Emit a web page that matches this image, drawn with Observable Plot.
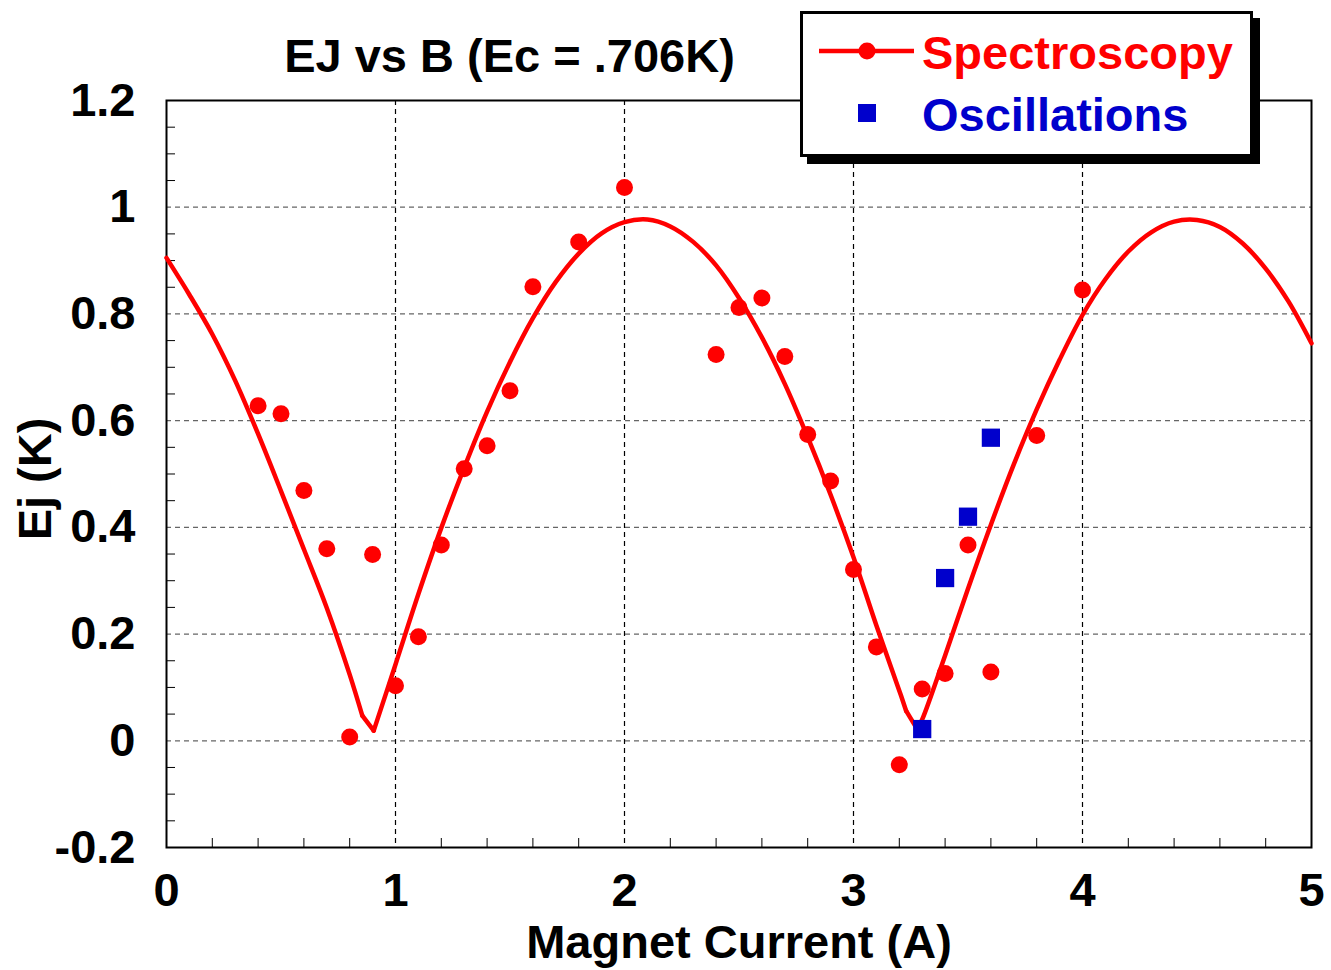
<!DOCTYPE html>
<html>
<head>
<meta charset="utf-8">
<script src="https://cdn.jsdelivr.net/npm/d3@7"></script>
<script src="https://cdn.jsdelivr.net/npm/@observablehq/plot@0.6"></script>
<style>
  html, body { margin: 0; padding: 0; background: #fff; }
  #wrap { position: relative; width: 1331px; height: 970px; }
</style>
</head>
<body>
<div id="wrap"></div>
<script>
// ---- data ----
const titleText = "EJ vs B (Ec = .706K)";
const xLabel = "Magnet Current (A)";
const yLabel = "Ej (K)";

const specX = [0.4, 0.5, 0.6, 0.7, 0.8, 0.9, 1.0, 1.1, 1.2, 1.3, 1.4, 1.5, 1.6, 1.8, 2.0, 2.4, 2.5, 2.6, 2.7, 2.8, 2.9, 3.0, 3.1, 3.2, 3.3, 3.4, 3.5, 3.6, 3.8, 4.0];
const specY = [0.628, 0.613, 0.469, 0.360, 0.007, 0.349, 0.103, 0.195, 0.367, 0.510, 0.553, 0.656, 0.851, 0.935, 1.037, 0.724, 0.812, 0.830, 0.720, 0.574, 0.487, 0.321, 0.176, -0.045, 0.097, 0.126, 0.367, 0.129, 0.572, 0.845];

const oscX = [3.3, 3.4, 3.5, 3.6];
const oscY = [0.022, 0.305, 0.420, 0.568];

const fitX = [0, 0.1, 0.2, 0.3, 0.4, 0.5, 0.6, 0.7, 0.8, 0.855, 0.905, 1.0, 1.1, 1.2, 1.3, 1.4, 1.5, 1.6, 1.7, 1.8, 1.9, 2.0, 2.1, 2.2, 2.3, 2.4, 2.5, 2.6, 2.7, 2.8, 2.9, 3.0, 3.1, 3.2, 3.23, 3.278, 3.3, 3.4, 3.5, 3.6, 3.7, 3.8, 3.9, 4.0, 4.1, 4.2, 4.3, 4.4, 4.5, 4.6, 4.7, 4.8, 4.9, 5.0];
const fitY = [0.905, 0.836, 0.762, 0.675, 0.575, 0.468, 0.359, 0.249, 0.124, 0.047, 0.019, 0.143, 0.275, 0.399, 0.512, 0.617, 0.710, 0.792, 0.860, 0.913, 0.951, 0.972, 0.977, 0.964, 0.935, 0.891, 0.830, 0.756, 0.669, 0.569, 0.461, 0.344, 0.216, 0.094, 0.056, 0.022, 0.040, 0.160, 0.285, 0.405, 0.518, 0.621, 0.714, 0.798, 0.865, 0.917, 0.953, 0.973, 0.976, 0.963, 0.932, 0.885, 0.823, 0.745];
// sharp corners of the fit curve (near the minima)
const fitCorners = [0.855, 0.905, 3.23, 3.278];

const xTicks = [0, 1, 2, 3, 4, 5];
const xTickLabels = ["0", "1", "2", "3", "4", "5"];
const yTicks = [-0.2, 0, 0.2, 0.4, 0.6, 0.8, 1.0, 1.2];
const yTickLabels = ["-0.2", "0", "0.2", "0.4", "0.6", "0.8", "1", "1.2"];
const xMinor = [0.2, 0.4, 0.6, 0.8, 1.2, 1.4, 1.6, 1.8, 2.2, 2.4, 2.6, 2.8, 3.2, 3.4, 3.6, 3.8, 4.2, 4.4, 4.6, 4.8];
const yMinor = [-0.15, -0.1, -0.05, 0.05, 0.1, 0.15, 0.25, 0.3, 0.35, 0.45, 0.5, 0.55, 0.65, 0.7, 0.75, 0.85, 0.9, 0.95, 1.05, 1.1, 1.15];

const legendNames = ["Spectroscopy", "Oscillations"];
const RED = "#ff0000", BLUE = "#0000cc";

// ---- tables ----
const spec = specX.map((x, i) => ({x, y: specY[i]}));
const osc = oscX.map((x, i) => ({x, y: oscY[i]}));
// split the fit curve into smooth pieces at its corners
const fit = [];
let seg = 0;
fitX.forEach((x, i) => {
  fit.push({x, y: fitY[i], seg});
  if (fitCorners.includes(x) && i < fitX.length - 1) {
    seg += 1;
    fit.push({x, y: fitY[i], seg});
  }
});

const W = 1331, H = 970, mL = 166, mR = 20, mT = 100, mB = 123;
const frameW = W - mL - mR, frameH = H - mT - mB;
const xFmt = d => xTickLabels[xTicks.indexOf(d)];
const yFmt = d => yTickLabels[yTicks.findIndex(t => Math.abs(t - d) < 1e-9)];

const chart = Plot.plot({
  width: W, height: H,
  marginLeft: mL, marginRight: mR, marginTop: mT, marginBottom: mB,
  style: {fontFamily: "'Liberation Sans', Arial, sans-serif", fontSize: "47px", fontWeight: "bold", color: "black", background: "white", overflow: "visible"},
  x: {domain: [0, 5]},
  y: {domain: [-0.2, 1.2]},
  marks: [
    Plot.ruleY(yTicks.slice(1, -1), {y: d => d, stroke: "#666", strokeWidth: 1.2, strokeDasharray: "5,4"}),
    Plot.ruleX(xTicks.slice(1, -1), {x: d => d, stroke: "#000", strokeWidth: 1.2, strokeDasharray: "5,4"}),
    Plot.ruleX(xMinor, {x: d => d, insetTop: frameH - 9, stroke: "#000", strokeWidth: 1}),
    Plot.ruleY(yMinor, {y: d => d, insetRight: frameW - 9, stroke: "#000", strokeWidth: 1}),
    Plot.frame({stroke: "#000", strokeWidth: 2}),
    Plot.line(fit, {x: "x", y: "y", z: "seg", curve: "catmull-rom", stroke: RED, strokeWidth: 4.5, strokeLinejoin: "round", strokeLinecap: "round"}),
    Plot.dot(spec, {x: "x", y: "y", r: 8.5, fill: RED, stroke: "none"}),
    Plot.dot(osc, {x: "x", y: "y", symbol: "square", r: 10.3, fill: BLUE, stroke: "none"}),
    Plot.axisX({ticks: xTicks, tickFormat: xFmt, tickSize: 0, tickPadding: 25, label: null}),
    Plot.axisY({ticks: yTicks, tickFormat: yFmt, tickSize: 0, tickPadding: 31, label: null}),
    Plot.text([xLabel], {frameAnchor: "bottom", dy: 95, lineAnchor: "middle", textAnchor: "middle", text: d => d}),
    Plot.text([yLabel], {frameAnchor: "left", dx: -131, dy: 5, rotate: -90, lineAnchor: "middle", textAnchor: "middle", text: d => d}),
    Plot.text([titleText], {frameAnchor: "top-left", dx: 343, dy: -44, lineAnchor: "middle", textAnchor: "middle", text: d => d})
  ]
});

const wrap = document.getElementById("wrap");
wrap.appendChild(chart);

// ---- legend (overlay box with drop shadow) ----
const lg = d3.create("svg").attr("width", 462).attr("height", 155)
  .style("position", "absolute").style("left", "800px").style("top", "11px")
  .attr("font-family", "'Liberation Sans', Arial, sans-serif").attr("font-weight", "bold").attr("font-size", 47);
lg.append("rect").attr("x", 7).attr("y", 7).attr("width", 453).attr("height", 146).attr("fill", "#000");
lg.append("rect").attr("x", 1.5).attr("y", 1.5).attr("width", 450).attr("height", 143).attr("fill", "#fff").attr("stroke", "#000").attr("stroke-width", 3);
lg.append("line").attr("x1", 19).attr("x2", 114).attr("y1", 40).attr("y2", 40).attr("stroke", RED).attr("stroke-width", 4.5);
lg.append("circle").attr("cx", 67).attr("cy", 40).attr("r", 8.5).attr("fill", RED);
lg.append("rect").attr("x", 58).attr("y", 93).attr("width", 18).attr("height", 18).attr("fill", BLUE);
lg.append("text").attr("x", 122).attr("y", 58).attr("fill", RED).text(legendNames[0]);
lg.append("text").attr("x", 122).attr("y", 120).attr("fill", BLUE).text(legendNames[1]);
wrap.appendChild(lg.node());
</script>
</body>
</html>
